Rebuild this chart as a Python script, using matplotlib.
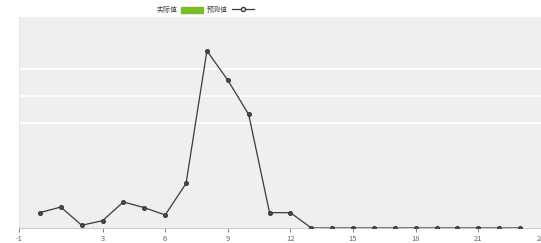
import matplotlib
matplotlib.use("Agg")
import matplotlib.pyplot as plt
from matplotlib.patches import Patch
from matplotlib.lines import Line2D

plt.rcParams['font.family'] = ['Noto Sans CJK SC', 'DejaVu Sans']

hours = list(range(0, 24))
predicted = [7.3, 10.0, 1.3, 3.5, 12.4, 9.7, 6.2, 21.2, 84.4, 70.4, 54.1, 7.3, 7.3,
             0, 0, 0, 0, 0, 0, 0, 0, 0, 0, 0]
actual = [0] * 24
x_ticks = [-1, 3, 6, 9, 12, 15, 18, 21, 24]
grid_levels = [50, 62.8, 75.7]
legend_labels = ["实际值", "预测值"]

fig = plt.figure(figsize=(5.41, 2.43), dpi=100)
ax = fig.add_axes([19/541, 1 - 228/243, 1 - 19/541, (228 - 17)/243])
ax.set_facecolor('#efefef')

ax.bar(hours, actual, color='#7cbb2a', width=0.6)
for g in grid_levels:
    ax.axhline(g, color='white', lw=1.2, zorder=1)
ax.plot(hours, predicted, color='#3a3a3a', lw=0.9, marker='o', ms=2.6,
        markerfacecolor='#555555', markeredgecolor='#3a3a3a', zorder=3)

ax.set_xlim(-1, 23.9)
ax.set_ylim(0, 100.5)
ax.set_xticks(x_ticks)
ax.set_xticklabels([str(t) for t in x_ticks])
ax.set_yticks([])
ax.tick_params(axis='x', labelsize=5.5, colors='#666666', length=3, width=0.6, pad=2)
for s in ['top', 'right']:
    ax.spines[s].set_visible(False)
ax.spines['bottom'].set_color('#cccccc')
ax.spines['left'].set_color('#dddddd')
ax.spines['left'].set_linewidth(0.5)

handles = [Patch(facecolor='#7cbb2a', edgecolor='#7cbb2a'),
           Line2D([0], [0], color='#3a3a3a', lw=0.9, marker='o', ms=3,
                  markerfacecolor='white', markeredgecolor='#3a3a3a')]
fig.legend(handles, legend_labels, loc='center', bbox_to_anchor=(205/541, 1 - 10/243),
           ncol=2, frameon=False, fontsize=5, handlelength=3.2, handleheight=1.0,
           handletextpad=0.5, columnspacing=0.6, markerfirst=False,
           labelcolor='#444444')

fig.savefig('out.png', dpi=100)
